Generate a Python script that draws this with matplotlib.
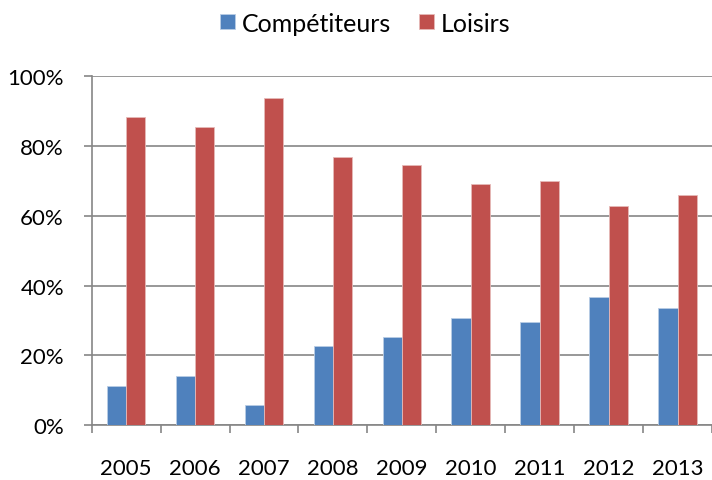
import matplotlib
matplotlib.use('Agg')
import matplotlib.pyplot as plt
import numpy as np
from matplotlib.ticker import FixedLocator, NullFormatter, PercentFormatter

years = ['2005', '2006', '2007', '2008', '2009', '2010', '2011', '2012', '2013']
competiteurs = [11.3, 14.0, 5.7, 22.8, 25.1, 30.6, 29.6, 36.8, 33.7]
loisirs = [88.3, 85.6, 93.8, 76.9, 74.5, 69.1, 70.0, 62.8, 65.9]

plt.rcParams['font.family'] = ['Lato', 'DejaVu Sans']
grey = '#868686'

fig = plt.figure(figsize=(7.12, 4.81), dpi=100)
ax = fig.add_axes([0.1288, 0.1143, 0.8712, 0.725])

x = np.arange(len(years))
w = 0.28
ax.bar(x - w / 2, competiteurs, w, color='#4F81BD', edgecolor='#b9cde5', linewidth=0.6, label='Compétiteurs', zorder=3)
ax.bar(x + w / 2, loisirs, w, color='#C0504D', edgecolor='#e6b9b8', linewidth=0.6, label='Loisirs', zorder=3)

ax.set_xlim(-0.5, len(years) - 0.5)
ax.set_ylim(0, 100)
ax.set_yticks(np.arange(0, 101, 20))
ax.yaxis.set_major_formatter(PercentFormatter(decimals=0))
ax.yaxis.grid(True, color=grey, linewidth=1.2, zorder=0)

# ticks at category boundaries, labels at centres
ax.xaxis.set_major_locator(FixedLocator(np.arange(-0.5, len(years), 1.0)))
ax.xaxis.set_major_formatter(NullFormatter())
ax.xaxis.set_minor_locator(FixedLocator(x))
ax.set_xticklabels(years, minor=True)
ax.tick_params(axis='x', which='major', direction='out', length=6, width=1.2, color=grey)
ax.tick_params(axis='x', which='minor', length=0, pad=24, labelsize=16)
ax.tick_params(axis='y', direction='out', length=6, width=1.2, color=grey, labelsize=16, pad=14)

for s in ['top', 'right']:
    ax.spines[s].set_visible(False)
for s in ['left', 'bottom']:
    ax.spines[s].set_color(grey)
    ax.spines[s].set_linewidth(1.2)

fig.legend(loc='center', bbox_to_anchor=(0.513, 0.95), ncol=2, frameon=False,
           fontsize=18, handlelength=0.6, handleheight=0.56, handletextpad=0.28,
           columnspacing=1.13)

fig.savefig('out.png', dpi=100)
